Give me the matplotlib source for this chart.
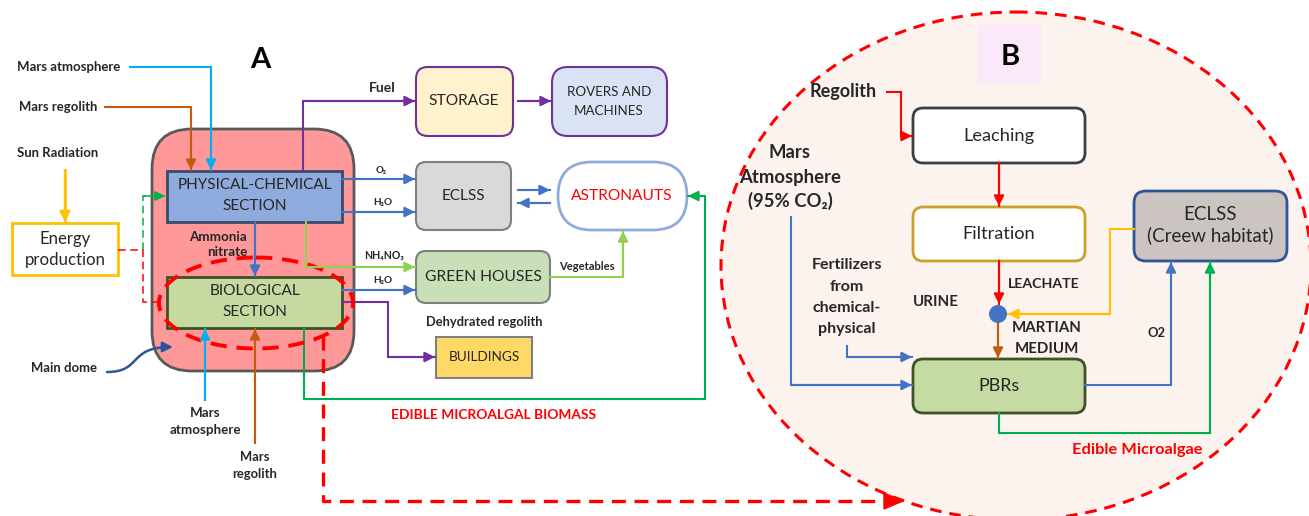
import matplotlib
matplotlib.use("Agg")
import matplotlib.pyplot as plt
from matplotlib.patches import FancyBboxPatch, Rectangle, Ellipse, Circle, Polygon, FancyArrowPatch
from matplotlib.path import Path

plt.rcParams["font.family"] = ["Lato", "DejaVu Sans"]

# ---- texts of the diagram -------------------------------------------------
A_INPUTS = ["Mars atmosphere", "Mars regolith", "Sun Radiation"]
A_SECTIONS = [["PHYSICAL-CHEMICAL", "SECTION"], ["BIOLOGICAL", "SECTION"]]
A_OUTPUTS = ["STORAGE", ["ROVERS AND", "MACHINES"], "ECLSS", "ASTRONAUTS",
             "GREEN HOUSES", "BUILDINGS"]
A_FLOWS = ["Fuel", "O₂", "H₂O", "NH₄NO₃", "H₂O", "Vegetables",
           "Dehydrated regolith", "EDIBLE MICROALGAL BIOMASS"]
B_STEPS = ["Leaching", "Filtration", "PBRs", ["ECLSS", "(Creew habitat)"]]
B_FLOWS = ["Regolith", ["Mars", "Atmosphere", "(95% CO₂)"],
           ["Fertilizers", "from", "chemical-", "physical"], "URINE",
           "LEACHATE", ["MARTIAN", "MEDIUM"], "O2", "Edible Microalgae"]

RED = "#FF0000"; BLUE = "#4472C4"; CYAN = "#00B0F0"; ORANGE = "#C55A11"
YELLOW = "#FFC000"; PURPLE = "#7030A0"; LGREEN = "#92D050"; GREEN = "#00B050"
INK = "#262626"

fig = plt.figure(figsize=(13.09, 5.16), dpi=100)
ax = fig.add_axes([0, 0, 1, 1])
ax.set_xlim(0, 1309); ax.set_ylim(516, 0); ax.axis("off")

TO_FIT = []


def label(x, ys, lines, width, ha="center", **kw):
    if isinstance(lines, str):
        lines = [lines]
    if not isinstance(ys, (list, tuple)):
        ys = [ys]
    kw.setdefault("color", INK)
    ts = [ax.text(x, y, s, ha=ha, va="center", fontsize=10, zorder=6, **kw)
          for y, s in zip(ys, lines)]
    TO_FIT.append((ts, width))


def box(x, y, w, h, fc, ec, r=0, lw=1.5, z=2):
    if r:
        p = FancyBboxPatch((x, y), w, h, boxstyle=f"round,pad=0,rounding_size={r}",
                           fc=fc, ec=ec, lw=lw, zorder=z)
    else:
        p = Rectangle((x, y), w, h, fc=fc, ec=ec, lw=lw, zorder=z)
    ax.add_patch(p)


def flow(pts, color, lw=1.5, head=True, ls="-"):
    xs, ys = zip(*pts)
    ax.plot(xs, ys, color=color, lw=lw, ls=ls, zorder=3, solid_joinstyle="miter")
    if head:
        ax.annotate("", xy=pts[-1], xytext=pts[-2], zorder=4,
                    arrowprops=dict(arrowstyle="-|>,head_length=0.6,head_width=0.3",
                                    color=color, lw=lw, shrinkA=0, shrinkB=0))


# ================= panel A =================
ax.text(260, 60, "A", ha="center", va="center", fontsize=21, fontweight="bold")

box(152, 129, 202, 242, "#FF9999", "#595959", r=40, lw=2, z=1)
box(12, 223, 106, 52, "white", YELLOW, lw=2)
box(167, 171, 175, 51, "#8FAADC", "#3A4A66", lw=2)
box(167, 277, 175, 51, "#C5D9A0", "#3B5323", lw=2)
box(416, 67, 97, 69, "#FFF2CC", PURPLE, r=12)
box(552, 67, 115, 69, "#DAE3F3", PURPLE, r=16)
box(416, 162, 95, 68, "#D9D9D9", "#7F7F7F", r=10)
box(558, 162, 129, 68, "white", "#8FAADC", r=34, lw=2)
box(416, 251, 134, 52, "#C9DFB7", "#7F7F7F", r=10)
box(436, 337, 96, 41, "#FFD966", "#7F7F7F")

ax.add_patch(Ellipse((256, 303), 194, 91, fill=False, ec=RED, lw=2.8,
                     ls=(0, (4.2, 2.5)), zorder=4))

# inputs
flow([(130, 67), (211, 67), (211, 170)], CYAN)
flow([(105, 107), (191, 107), (191, 170)], ORANGE)
flow([(65, 170), (65, 222)], YELLOW, lw=1.8)
flow([(143, 250), (143, 196), (165, 196)], GREEN, lw=1.1, ls=(0, (5, 3)))
flow([(118, 250), (143, 250), (143, 302), (160, 302)], RED, lw=1.1, head=False,
     ls=(0, (5, 3)))
flow([(205, 400), (205, 329)], CYAN)
flow([(255, 443), (255, 329)], ORANGE)
# internal / outputs
flow([(255, 222), (255, 276)], BLUE)
flow([(303, 170), (303, 101), (415, 101)], PURPLE)
flow([(518, 101), (551, 101)], PURPLE)
flow([(342, 179), (415, 179)], BLUE)
flow([(342, 212), (415, 212)], BLUE)
flow([(518, 190), (550, 190)], BLUE)
flow([(550, 203), (518, 203)], BLUE)
flow([(306, 222), (306, 267), (415, 267)], LGREEN)
flow([(342, 290), (415, 290)], BLUE)
flow([(550, 277), (623, 277), (623, 231)], LGREEN)
flow([(342, 302), (388, 302), (388, 357), (435, 357)], PURPLE)
flow([(304, 328), (304, 399), (705, 399), (705, 196), (688, 196)], GREEN)

# main dome pointer
dome = Path([(107, 372), (142, 372), (128, 347), (173, 347)],
            [Path.MOVETO, Path.CURVE4, Path.CURVE4, Path.CURVE4])
ax.add_patch(FancyArrowPatch(path=dome, arrowstyle="-|>,head_length=0.6,head_width=0.3",
                             mutation_scale=10, color="#2F5597", lw=1.8, zorder=4))

# link A -> B
ax.plot([323, 323, 884], [336, 501, 501], color=RED, lw=2.4,
        ls=(0, (4.2, 2.6)), zorder=3)
ax.add_patch(Polygon([(884, 493), (884, 509), (903, 501)], fc=RED, ec=RED, zorder=4))

label(17, 67, A_INPUTS[0], 104, ha="left", fontweight="bold")
label(19, 107, A_INPUTS[1], 78, ha="left", fontweight="bold")
label(17, 153, A_INPUTS[2], 81, ha="left", fontweight="bold")
label(65, [239, 260], ["Energy", "production"], 81)
label(255, [185, 206], A_SECTIONS[0], 153)
label(247, [237, 252], ["Ammonia", "nitrate"], 57, ha="right", fontweight="bold")
label(255, [291, 312], A_SECTIONS[1], 90)
label(31, 368, "Main dome", 66, ha="left", fontweight="bold")
label(205, [413, 430], ["Mars", "atmosphere"], 71, fontweight="bold")
label(255, [457, 474], ["Mars", "regolith"], 45, fontweight="bold")
label(464, 101, A_OUTPUTS[0], 70)
label(609, [92, 111], A_OUTPUTS[1], 84)
label(463, 196, A_OUTPUTS[2], 43)
label(622, 196, A_OUTPUTS[3], 101, color=RED)
label(483, 277, A_OUTPUTS[4], 116)
label(484, 357, A_OUTPUTS[5], 71)
label(382, 88, A_FLOWS[0], 27, fontweight="bold")
label(381, 171, A_FLOWS[1], 11, fontweight="bold")
label(383, 203, A_FLOWS[2], 19, fontweight="bold")
label(384, 256, A_FLOWS[3], 40, fontweight="bold")
label(383, 280, A_FLOWS[4], 19, fontweight="bold")
label(587, 267, A_FLOWS[5], 55, fontweight="bold")
label(484, 322, A_FLOWS[6], 117, fontweight="bold")
label(494, 415, A_FLOWS[7], 205, fontweight="bold", color=RED)

# ================= panel B =================
ax.add_patch(Ellipse((1016, 266), 590, 508, fc="#FCF3EF", ec=RED, lw=2.2,
                     ls=(0, (3.8, 2.6)), zorder=0))
ax.add_patch(Rectangle((978, 25), 63, 58, fc="#FBE9FA", ec="none", zorder=1))
ax.text(1010, 57, "B", ha="center", va="center", fontsize=21, fontweight="bold")

box(913, 108, 172, 55, "white", "#3B3F48", r=10, lw=2)
box(913, 207, 172, 54, "white", "#C9A02A", r=10, lw=2)
box(913, 359, 172, 54, "#C5DBA3", "#3D5226", r=10, lw=2)
box(1134, 191, 153, 70, "#CBC4C1", "#2F5597", r=12, lw=2)
ax.add_patch(Circle((998, 314), 9, fc=BLUE, ec="none", zorder=5))

flow([(887, 92), (901, 92), (901, 136), (912, 136)], RED)
flow([(999, 163), (999, 206)], RED)
flow([(999, 261), (999, 304)], RED)
flow([(1134, 229), (1110, 229), (1110, 314), (1008, 314)], YELLOW)
flow([(998, 323), (998, 358)], ORANGE)
flow([(791, 217), (791, 385), (912, 385)], BLUE)
flow([(847, 346), (847, 357), (912, 357)], BLUE)
flow([(1085, 385), (1171, 385), (1171, 262)], BLUE)
flow([(999, 413), (999, 433), (1210, 433), (1210, 262)], GREEN)

label(999, 136, B_STEPS[0], 71)
label(999, 234, B_STEPS[1], 73)
label(999, 386, B_STEPS[2], 41)
label(1210, [215, 235], B_STEPS[3], 127)
label(843, 92, B_FLOWS[0], 67, fontweight="bold")
label(790, [152, 177, 201], B_FLOWS[1], 102, fontweight="bold")
label(847, [265, 287, 308, 329], B_FLOWS[2], 71, fontweight="bold")
label(936, 302, B_FLOWS[3], 46, fontweight="bold")
label(1008, 284, B_FLOWS[4], 72, ha="left", fontweight="bold")
label(1047, [328, 349], B_FLOWS[5], 70, fontweight="bold")
label(1156, 333, B_FLOWS[6], 18, fontweight="bold")
label(1137, 450, B_FLOWS[7], 130, fontweight="bold", color=RED)

# scale every label so its widest line matches the reference width
fig.canvas.draw()
rend = fig.canvas.get_renderer()
for ts, w in TO_FIT:
    widest = max(t.get_window_extent(renderer=rend).width for t in ts)
    for t in ts:
        t.set_fontsize(t.get_fontsize() * w / widest)

fig.savefig("out.png", dpi=100, facecolor="white")
plt.close(fig)
